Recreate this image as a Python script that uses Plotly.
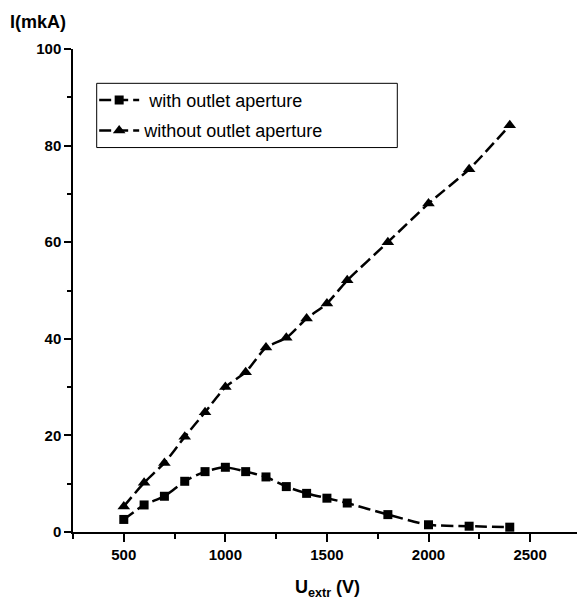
import plotly.graph_objects as go

# Data
u_with = [500, 600, 700, 800, 900, 1000, 1100, 1200, 1300, 1400, 1500, 1600, 1800, 2000, 2200, 2400]
i_with = [2.6, 5.6, 7.4, 10.5, 12.5, 13.4, 12.5, 11.4, 9.4, 8.0, 7.0, 6.0, 3.6, 1.5, 1.2, 1.0]
u_without = [500, 600, 700, 800, 900, 1000, 1100, 1200, 1300, 1400, 1500, 1600, 1800, 2000, 2200, 2400]
i_without = [5.3, 10.2, 14.3, 19.7, 24.8, 30.0, 33.1, 38.2, 40.2, 44.2, 47.3, 52.1, 60.0, 68.0, 75.1, 84.2]

name_with = "\u00a0with outlet aperture"
name_without = "without outlet aperture"

TICKFONT = dict(family="Liberation Sans, Arial", size=15, color="black", weight="bold")

fig = go.Figure()
fig.add_trace(go.Scatter(
    x=u_with, y=i_with, name=name_with, mode="lines+markers", legendgroup="a",
    line=dict(color="black", width=2.5, dash="12px,5px", shape="spline", smoothing=0.6),
    marker=dict(symbol="square", size=9, color="black"),
))
fig.add_trace(go.Scatter(
    x=u_without, y=i_without, name=name_without, mode="lines+markers", legendgroup="b",
    line=dict(color="black", width=2.5, dash="12px,5px", shape="spline", smoothing=0.6),
    marker=dict(symbol="triangle-up", size=11, color="black"),
))

fig.update_layout(
    width=577, height=608,
    margin=dict(l=73, r=0, t=49, b=76),
    paper_bgcolor="white", plot_bgcolor="white",
    showlegend=True,
    legend=dict(
        x=0.042, y=0.932, xanchor="left", yanchor="top",
        bgcolor="rgba(0,0,0,0)", borderwidth=0,
        font=dict(family="Liberation Sans, Arial", size=18, color="black"),
        traceorder="grouped", tracegroupgap=4, itemwidth=40,
    ),
    xaxis=dict(
        range=[250, 2731], showgrid=False, zeroline=False,
        showline=True, linecolor="black", linewidth=1.5,
        tick0=0, dtick=500, ticks="outside", ticklen=8, tickwidth=1.5, tickcolor="black",
        tickfont=TICKFONT,
        minor=dict(dtick=250, tick0=0, ticks="outside", ticklen=5, tickwidth=1.5, tickcolor="black"),
    ),
    yaxis=dict(
        range=[0, 100], showgrid=False, zeroline=False,
        showline=True, linecolor="black", linewidth=1.5,
        tick0=0, dtick=20, ticks="outside", ticklen=7, tickwidth=1.5, tickcolor="black",
        tickfont=TICKFONT,
        minor=dict(dtick=10, tick0=0, ticks="outside", ticklen=4, tickwidth=1.5, tickcolor="black"),
    ),
    shapes=[dict(
        type="rect", xref="paper", yref="paper",
        x0=(96.7 - 73) / 504, x1=(397.3 - 73) / 504,
        y0=(531.7 - 147.5) / 482.7, y1=(531.7 - 83.3) / 482.7,
        line=dict(color="black", width=1), fillcolor="rgba(0,0,0,0)",
    )],
    annotations=[
        dict(text="I(mkA)", xref="paper", yref="paper", x=-0.129, y=(531.7 - 22) / 482.7,
             xanchor="left", yanchor="middle", showarrow=False,
             font=dict(family="Liberation Sans, Arial", size=18, color="black", weight="bold")),
        dict(text="U<sub>extr</sub> (V)", xref="paper", yref="paper", x=0.505, y=-0.118,
             xanchor="center", yanchor="middle", showarrow=False,
             font=dict(family="Liberation Sans, Arial", size=18, color="black", weight="bold")),
    ],
)

fig.write_html("out.html")
